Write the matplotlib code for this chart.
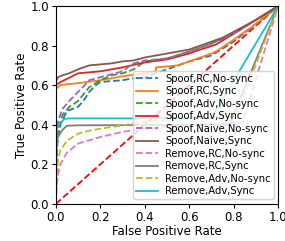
import matplotlib
matplotlib.use("Agg")
import matplotlib.pyplot as plt

labels = ["Spoof,RC,No-sync", "Spoof,RC,Sync", "Spoof,Adv,No-sync", "Spoof,Adv,Sync",
          "Spoof,Naive,No-sync", "Spoof,Naive,Sync", "Remove,RC,No-sync", "Remove,RC,Sync",
          "Remove,Adv,No-sync", "Remove,Adv,Sync"]

fpr_spoof_rc_nosync = [0, 0.005, 0.02, 0.05, 0.1, 0.13, 0.15, 0.18, 0.2, 0.3, 0.35, 0.4, 0.5, 0.6, 0.7, 0.8, 1.0]
tpr_spoof_rc_nosync = [0, 0.30, 0.40, 0.47, 0.49, 0.53, 0.566, 0.60, 0.616, 0.625, 0.635, 0.64, 0.68, 0.72, 0.75, 0.82, 1.0]

fpr_spoof_rc_sync = [0, 0, 0.02, 0.05, 0.1, 0.2, 0.3, 0.4, 0.45, 0.45, 0.55, 0.6, 0.7, 0.72, 0.8, 0.9, 1.0]
tpr_spoof_rc_sync = [0, 0.58, 0.60, 0.605, 0.61, 0.625, 0.645, 0.66, 0.67, 0.69, 0.70, 0.72, 0.76, 0.77, 0.83, 0.91, 1.0]

fpr_spoof_adv_nosync = [0, 0.005, 0.01, 0.03, 0.06, 0.1, 0.15, 0.2, 0.25, 0.3, 0.35, 0.4, 0.5, 0.6, 0.7, 0.8, 1.0]
tpr_spoof_adv_nosync = [0, 0.25, 0.38, 0.45, 0.49, 0.52, 0.59, 0.625, 0.65, 0.66, 0.68, 0.72, 0.735, 0.77, 0.81, 0.86, 1.0]

fpr_spoof_adv_sync = [0, 0, 0.02, 0.1, 0.2, 0.3, 0.4, 0.5, 0.6, 0.65, 0.72, 0.8, 1.0]
tpr_spoof_adv_sync = [0, 0.60, 0.615, 0.66, 0.67, 0.69, 0.715, 0.73, 0.76, 0.78, 0.805, 0.86, 1.0]

fpr_spoof_naive_nosync = [0, 0.005, 0.01, 0.03, 0.06, 0.1, 0.13, 0.15, 0.2, 0.3, 0.35, 0.4, 0.5, 0.6, 0.7, 0.8, 1.0]
tpr_spoof_naive_nosync = [0, 0.30, 0.42, 0.48, 0.52, 0.566, 0.60, 0.625, 0.64, 0.67, 0.71, 0.725, 0.735, 0.77, 0.81, 0.86, 1.0]

fpr_spoof_naive_sync = [0, 0, 0.01, 0.03, 0.06, 0.1, 0.15, 0.2, 0.25, 0.3, 0.35, 0.4, 0.45, 0.5, 0.55, 0.6, 0.65, 0.7, 0.75, 0.8, 0.9, 1.0]
tpr_spoof_naive_sync = [0, 0.62, 0.64, 0.65, 0.66, 0.68, 0.70, 0.705, 0.71, 0.72, 0.725, 0.74, 0.75, 0.76, 0.77, 0.78, 0.80, 0.82, 0.84, 0.87, 0.93, 1.0]

fpr_remove_rc_nosync = [0, 0.003, 0.01, 0.02, 0.05, 0.1, 0.2, 0.3, 0.4, 0.5, 0.6, 0.84, 1.0]
tpr_remove_rc_nosync = [0, 0.08, 0.15, 0.20, 0.26, 0.305, 0.338, 0.364, 0.38, 0.39, 0.40, 0.41, 1.0]

fpr_remove_rc_sync = [0, 0.003, 0.01, 0.03, 0.05, 0.1, 0.78, 1.0]
tpr_remove_rc_sync = [0, 0.30, 0.34, 0.375, 0.395, 0.397, 0.40, 1.0]

fpr_remove_adv_nosync = [0, 0.003, 0.01, 0.02, 0.05, 0.1, 0.15, 0.2, 0.3, 0.4, 0.5, 0.6, 0.81, 1.0]
tpr_remove_adv_nosync = [0, 0.12, 0.22, 0.27, 0.32, 0.355, 0.37, 0.38, 0.397, 0.414, 0.425, 0.43, 0.44, 1.0]

fpr_remove_adv_sync = [0, 0.002, 0.005, 0.02, 0.04, 0.06, 0.3, 0.7, 1.0]
tpr_remove_adv_sync = [0, 0.30, 0.38, 0.41, 0.43, 0.432, 0.432, 0.435, 1.0]

series = [
    (fpr_spoof_rc_nosync, tpr_spoof_rc_nosync, "--"),
    (fpr_spoof_rc_sync, tpr_spoof_rc_sync, "-"),
    (fpr_spoof_adv_nosync, tpr_spoof_adv_nosync, "--"),
    (fpr_spoof_adv_sync, tpr_spoof_adv_sync, "-"),
    (fpr_spoof_naive_nosync, tpr_spoof_naive_nosync, "--"),
    (fpr_spoof_naive_sync, tpr_spoof_naive_sync, "-"),
    (fpr_remove_rc_nosync, tpr_remove_rc_nosync, "--"),
    (fpr_remove_rc_sync, tpr_remove_rc_sync, "-"),
    (fpr_remove_adv_nosync, tpr_remove_adv_nosync, "--"),
    (fpr_remove_adv_sync, tpr_remove_adv_sync, "-"),
]

fig = plt.figure(figsize=(2.85, 2.41), dpi=100)
ax = fig.add_axes([0.196, 0.154, 0.78, 0.821])

ax.plot([0, 1], [0, 1], "r--", lw=1.3)
for i, ((x, y, ls), lab) in enumerate(zip(series, labels)):
    ax.plot(x, y, ls, color=f"C{i}", lw=1.3, label=lab)

ax.set_xlim(0, 1)
ax.set_ylim(0, 1)
ax.set_xticks([0, 0.2, 0.4, 0.6, 0.8, 1.0])
ax.set_yticks([0, 0.2, 0.4, 0.6, 0.8, 1.0])
ax.tick_params(labelsize=8.5, length=3, pad=2)
ax.set_xlabel("False Positive Rate", fontsize=8.5, labelpad=1)
ax.set_ylabel("True Positive Rate", fontsize=8.5, labelpad=2)
ax.legend(loc="lower right", fontsize=7.2, handlelength=2.2, labelspacing=0.25,
          borderaxespad=0.45, handletextpad=0.75, borderpad=0.3)

fig.savefig("out.png", dpi=100)
